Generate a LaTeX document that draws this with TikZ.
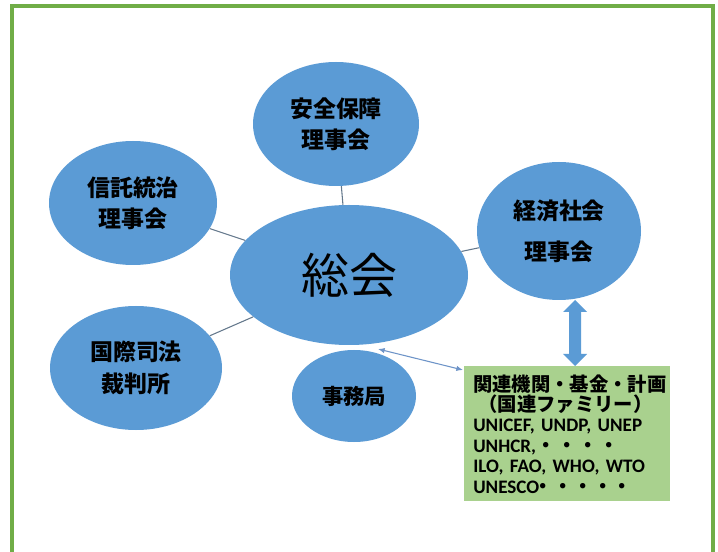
\documentclass[tikz,border=0pt]{standalone}
\usepackage{fontspec}
\usetikzlibrary{shapes.geometric,arrows.meta}
\newfontfamily\jp{Noto Sans CJK JP}
\newfontfamily\lat{Carlito}[UprightFont={* Bold}, BoldFont={* Bold}]
\newcommand\latsz{\lat\fontsize{14.3pt}{15.3pt}\selectfont}
\definecolor{ublue}{HTML}{5B9BD5}
\definecolor{linec}{HTML}{64788C}
\definecolor{arrc}{HTML}{6E94C8}
\definecolor{boxg}{HTML}{A9D18E}
\definecolor{framec}{HTML}{70AD47}
\begin{document}
\begin{tikzpicture}[x=0.75pt,y=-0.75pt,
  ell/.style 2 args={ellipse, fill=ublue, inner sep=0pt,
    minimum width={#1*1.5pt}, minimum height={#2*1.5pt}, align=center,
    font=\jp\bfseries\fontsize{17.2pt}{23.5pt}\selectfont, text=black},
  link/.style={draw=linec, line width=0.8pt},
  famtext/.style={fill=boxg, inner xsep=6.75pt, inner ysep=0pt,
    text width=141pt, minimum height=101.25pt, align=left,
    font=\bfseries\fontsize{14.5pt}{15.3pt}\selectfont},
  framestyle/.style={draw=framec, line width=2.3pt}]
\useasboundingbox (0,0) rectangle (718,552);
\clip (0,0) rectangle (718,552);
\fill[white] (0,0) rectangle (718,552);
\draw[framestyle] (12,6) rectangle (713,580);

\node[ell={119}{70}, font=\jp\fontsize{36pt}{40pt}\selectfont] (gen) at (349,275) {総会};
\node[ell={83}{62}] (sec) at (336,124) {安全保障\\理事会};
\node[ell={84}{62}] (tru) at (133,203) {信託統治\\理事会};
\node[ell={86}{62}] (icj) at (136,368) {国際司法\\裁判所};
\node[ell={62}{46}, font=\jp\bfseries\fontsize{16pt}{20pt}\selectfont] (sg) at (354,396) {事務局};
\node[ell={82}{69}, font=\jp\bfseries\fontsize{17.2pt}{30.75pt}\selectfont] (eco) at (559,231) {経済社会\\理事会};

\node[famtext, anchor=north west] (fam) at (464,366) {%
{\jp 関連機関・基金・計画}\\
{\jp\hspace*{4pt}（国連ファミリー）}\\
{\latsz UNICEF, UNDP, UNEP}\\
{\latsz UNHCR,}{\jp ・\hspace{1.4pt}・\hspace{1.4pt}・\hspace{1.4pt}・}\\
{\latsz ILO, FAO, WHO, WTO}\\
{\latsz UNESCO}\hspace{-4pt}{\jp ・\hspace{0.3pt}・\hspace{0.3pt}・\hspace{0.3pt}・\hspace{0.3pt}・}};

\draw[link] (sec) -- (gen);
\draw[link] (tru) -- (gen);
\draw[link] (icj) -- (gen);
\draw[link] (eco) -- (gen);

\coordinate (ga) at (378,349);
\coordinate (gb) at (463,370);
\draw[draw=arrc, line width=0.8pt, {Latex[length=5pt,width=4pt]}-{Latex[length=5pt,width=4pt]}] (ga) -- (gb);

\coordinate (dt) at (575,300);
\coordinate (db) at (575,366);
\fill[ublue] (dt) -- ++(12,12) -- ++(-6,0) -- ++(0,42) -- ++(6,0) -- (db)
  -- ++(-12,-12) -- ++(6,0) -- ++(0,-42) -- ++(-6,0) -- cycle;
\end{tikzpicture}
\end{document}
